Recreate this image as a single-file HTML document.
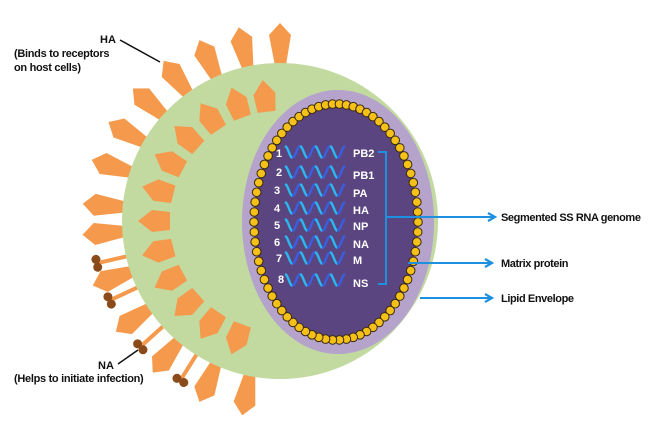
<!DOCTYPE html><html><head><style>body{margin:0;background:#fff}svg{display:block}text{font-family:"Liberation Sans",Arial,sans-serif;font-weight:bold}</style></head><body>
<svg id="s" width="665" height="428" viewBox="0 0 665 428">
<defs><marker id="ar" markerWidth="10" markerHeight="10" refX="7" refY="5" orient="auto" markerUnits="userSpaceOnUse"><path d="M1,1 L8,5 L1,9" fill="none" stroke="#1e90e0" stroke-width="2.2"/></marker></defs>
<g id="outer"></g>
<circle cx="280" cy="221" r="158" fill="#c2d9a0"/>
<g id="inner"></g>
<ellipse cx="338" cy="222" rx="96" ry="132" fill="#b5a3cc"/>
<ellipse cx="336" cy="222" rx="82" ry="118" fill="#5a4580"/>
<g id="dots"></g>
<g id="waves"></g>
<g font-size="11" fill="#fff">
<text x="276" y="157">1</text><text x="276" y="176">2</text><text x="274" y="194">3</text><text x="274" y="212">4</text><text x="274" y="229">5</text><text x="274" y="246">6</text><text x="276" y="262">7</text><text x="278" y="283">8</text>
<text x="353" y="157">PB2</text><text x="353" y="179">PB1</text><text x="353" y="197">PA</text><text x="353" y="214">HA</text><text x="353" y="230">NP</text><text x="353" y="248">NA</text><text x="353" y="264">M</text><text x="353" y="287">NS</text>
</g>
<path d="M378,152 H386 V284 H378" fill="none" stroke="#1e90e0" stroke-width="2"/>
<line x1="386" y1="217" x2="494" y2="217" stroke="#1e90e0" stroke-width="2" marker-end="url(#ar)"/>
<line x1="408" y1="263" x2="491" y2="263" stroke="#1e90e0" stroke-width="2" marker-end="url(#ar)"/>
<line x1="420" y1="298" x2="491" y2="298" stroke="#1e90e0" stroke-width="2" marker-end="url(#ar)"/>
<g font-size="11" fill="#111">
<text x="501" y="221" letter-spacing="-0.4">Segmented SS RNA genome</text>
<text x="501" y="267" letter-spacing="-0.4">Matrix protein</text>
<text x="501" y="302" letter-spacing="-0.4">Lipid Envelope</text>
<text x="100" y="43">HA</text>
<text x="14" y="57" letter-spacing="-0.3">(Binds to receptors</text>
<text x="14" y="71" letter-spacing="-0.3">on host cells)</text>
<text x="98" y="369">NA</text>
<text x="14" y="382" letter-spacing="-0.3">(Helps to initiate infection)</text>
</g>
<line x1="120" y1="40" x2="160" y2="62" stroke="#111" stroke-width="1.5"/>
<line x1="118" y1="364" x2="138" y2="350" stroke="#111" stroke-width="1.5"/>
</svg>
<script>
var NS="http://www.w3.org/2000/svg",cx=280,cy=221;
function el(p,t,a){var e=document.createElementNS(NS,t);for(var k in a)e.setAttribute(k,a[k]);p.appendChild(e);return e;}
var O=document.getElementById('outer'),I=document.getElementById('inner');
[-90,-102,-114,-126,-138,-150,-162,-175,176,161,146,130,114,101].forEach(function(a){
 el(O,'polygon',{points:"150,-4 150,5 186,11 198,0 186,-11",fill:"#f59a4c",transform:"translate("+cx+","+cy+") rotate("+a+")"});});
[167,155,138,122].forEach(function(a){
 var g=el(O,'g',{transform:"translate("+cx+","+cy+") rotate("+a+")"});
 el(g,'line',{x1:150,y1:0,x2:186,y2:0,stroke:"#f59a4c","stroke-width":4});
 el(g,'circle',{cx:188,cy:-4,r:4.5,fill:"#8a4a1a"});el(g,'circle',{cx:188,cy:4,r:4.5,fill:"#8a4a1a"});});
[-97,-110,-124,-138,-152,-166,-180,166,152,138,124,110].forEach(function(a){
 el(I,'polygon',{points:"110,-9 128,-11 142,0 128,11 110,9",fill:"#f59a4c",transform:"translate("+cx+","+cy+") rotate("+a+")"});});
var D=document.getElementById('dots'),n=74;
for(var i=0;i<n;i++){var t=i/n*2*Math.PI;el(D,'circle',{cx:336+82*Math.cos(t),cy:222+118*Math.sin(t),r:4.3,fill:"#f5c018",stroke:"#3a2a10","stroke-width":1});}
var W=document.getElementById('waves');
[152,172,190,208,225,242,258,280].forEach(function(y){
 for(var h=0;h<8;h++){var x0=285+h*7.5,d="";
  for(var k=0;k<=6;k++){var x=x0+k*7.5/6,yy=y-6*Math.cos(Math.PI*(x-285)/7.5);d+=(k?"L":"M")+x.toFixed(1)+","+yy.toFixed(1);}
  el(W,'path',{d:d,fill:"none",stroke:h%2?"#3a5ee0":"#2ab8ee","stroke-width":2.4});}
});
</script>
</body></html>
